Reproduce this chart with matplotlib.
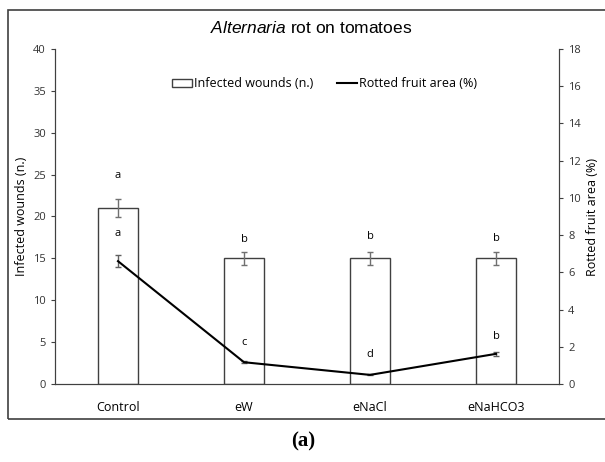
import numpy as np
import matplotlib.pyplot as plt
from matplotlib.patches import Rectangle
from matplotlib.lines import Line2D

treatments = ['Control', 'eW', 'eNaCl', 'eNaHCO3']
wounds = [21, 15, 15, 15]
wounds_err = [1.05, 0.8, 0.8, 0.8]
rotted_area = [6.6, 1.17, 0.49, 1.62]
rotted_err = [0.33, 0.04, 0.03, 0.09]
bar_letters = ['a', 'b', 'b', 'b']
bar_letter_y = [24.9, 17.2, 17.6, 17.4]
line_letters = ['a', 'c', 'd', 'b']
line_letter_y = [18.0, 4.95, 3.5, 5.7]

plt.rcParams['font.family'] = ['Open Sans', 'DejaVu Sans']
plt.rcParams['mathtext.fontset'] = 'custom'
plt.rcParams['mathtext.it'] = 'Liberation Sans:italic'
plt.rcParams['mathtext.rm'] = 'Liberation Sans'

fig = plt.figure(figsize=(6.05, 4.62), dpi=100)
ax = fig.add_axes([55 / 605, 78 / 462, 504 / 605, 335 / 462])
ax2 = ax.twinx()

x = np.arange(len(treatments))
bars = ax.bar(x, wounds, width=0.32, color='white', edgecolor='#404040', linewidth=1.0,
              yerr=wounds_err, error_kw=dict(ecolor='#707070', elinewidth=1, capsize=2.5),
              zorder=2)
ax2.errorbar(x, rotted_area, yerr=rotted_err, color='black', lw=1.5,
             ecolor='#606060', elinewidth=1, capsize=2.5)

for i in range(len(treatments)):
    ax.text(x[i], bar_letter_y[i], bar_letters[i], ha='center', va='center', fontsize=8)
    ax.text(x[i], line_letter_y[i], line_letters[i], ha='center', va='center', fontsize=8)

ax.set_xlim(-0.5, 3.5)
ax.set_ylim(0, 40)
ax.set_yticks(np.arange(0, 41, 5))
ax2.set_ylim(0, 18)
ax2.set_yticks(np.arange(0, 19, 2))
ax.set_xticks(x)
ax.set_xticklabels(treatments, fontsize=9)
ax.tick_params(axis='x', length=0, pad=12)
ax.tick_params(axis='y', labelsize=8, length=3, color='#404040', labelcolor='#333333')
ax2.tick_params(axis='y', labelsize=8, length=3, color='#404040', labelcolor='#333333')
ax.set_ylabel('Infected wounds (n.)', fontsize=9)
ax2.set_ylabel('Rotted fruit area (%)', fontsize=9)

for a in (ax, ax2):
    a.spines['top'].set_visible(False)
    for s in ('left', 'right', 'bottom'):
        a.spines[s].set_color('#404040')

handles = [Rectangle((0, 0), 1, 1, facecolor='white', edgecolor='#404040', lw=1.0),
           Line2D([], [], color='black', lw=1.5)]
ax.legend(handles, ['Infected wounds (n.)', 'Rotted fruit area (%)'], loc='center',
          bbox_to_anchor=(0.535, 0.896), ncol=2, frameon=False, fontsize=9,
          handlelength=1.6, handletextpad=0.15, columnspacing=1.9)

fig.text(311 / 605, 1 - 28 / 462, r'$\mathit{Alternaria}$ rot on tomatoes', ha='center', va='center',
         fontsize=12.5, family='Liberation Sans')
fig.patches.append(Rectangle((8 / 605, 1 - 419 / 462), 0.995, 409 / 462, transform=fig.transFigure,
                             fill=False, edgecolor='#404040', lw=1.2))
fig.text(303 / 605, 1 - 441 / 462, '(a)', ha='center', va='center', fontsize=15,
         family='Liberation Serif', weight='bold')

fig.savefig('out.png', dpi=100)
